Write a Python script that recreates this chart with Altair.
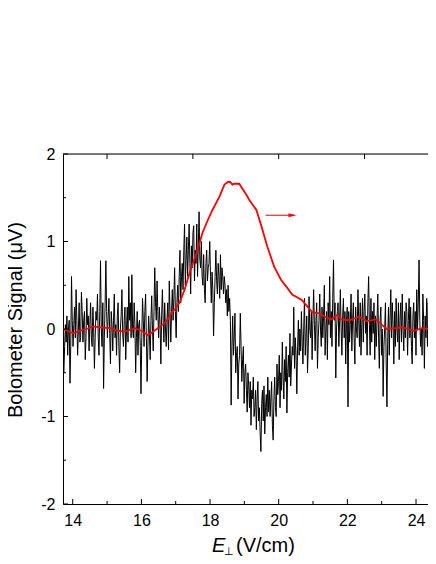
import altair as alt
import numpy as np
import pandas as pd

# ---- data ----
black_y = [
    # 13.72 - 14.72
    -0.45, -0.5, -0.2, 0.05, -0.15, 0.15, -0.3, 0.0, 0.1, -0.62, -0.2, 0.6, 0.1, -0.2, 0.05,
    0.25, -0.1, 0.45, 0.1, -0.3, 0.0, 0.3, -0.15, -0.1, 0.42, 0.2, -0.15, 0.1, 0.2, -0.35,
    -0.1, 0.35, 0.05, 0.15, -0.25, 0.05, 0.3, -0.1, -0.2, 0.25, 0.0, -0.45, -0.1, 0.2, 0.1,
    # 14.72 - 15.72
    0.4, -0.1, -0.3, 0.2, 0.78, 0.0, -0.2, 0.3, -0.68, -0.1, 0.3, 0.78, 0.2, -0.1, 0.15,
    0.35, -0.05, -0.4, 0.2, 0.05, -0.25, 0.1, 0.4, -0.1, 0.05, -0.3, 0.15, 0.3, -0.2, -0.5,
    0.0, 0.15, 0.45, -0.05, -0.2, 0.1, 0.25, -0.35, 0.0, 0.25, -0.15, 0.6, 0.1, 0.3, -0.1,
    # 15.72 - 16.72
    0.62, 0.0, -0.1, 0.3, 0.05, -0.5, -0.1, 0.2, -0.3, 0.05, 0.1, -0.2, -0.74, -0.1, 0.35,
    0.1, -0.2, 0.2, 0.4, -0.1, -0.6, -0.2, 0.15, -0.05, -0.35, 0.1, 0.38, 0.0, -0.25, 0.2,
    0.7, 0.3, 0.1, 0.55, 0.2, -0.1, 0.25, 0.05, -0.4, 0.15, 0.45, 0.1, -0.15, 0.3, 0.0,
    # 16.72 - 17.72
    -0.2, 0.1, 0.3, -0.24, 0.55, 0.2, -0.15, 0.2, 0.45, 0.1, 0.35, 0.7, 0.2, -0.1, 0.3,
    0.5, 0.2, 0.6, 0.9, 0.3, 0.6, 0.75, 0.45, 0.9, 1.2, 0.5, 0.8, 1.05, 0.6, 0.9,
    1.2, 0.75, 0.4, 0.95, 0.7, 1.1, 1.18, 0.55, 0.9, 0.75, 1.2, 0.6, 0.95, 1.34, 0.8,
    # 17.72 - 18.72
    0.7, 1.0, 0.6, 0.5, 0.85, 0.45, 0.3, 0.75, 0.9, 0.55, 0.7, 0.75, 1.0, 0.6, 0.3,
    0.65, 0.45, -0.08, 0.3, 0.6, 0.9, 0.55, 0.4, 0.75, 0.6, 0.35, 0.85, 0.45, 0.7, 0.6,
    0.4, 0.6, 0.5, 0.3, 0.45, 0.15, 0.5, 0.2, 0.35, 0.1, -0.87, -0.2, 0.15, -0.3, -0.1,
    # 18.72 - 19.72
    0.18, -0.5, -0.3, -0.2, -0.8, -0.4, -0.3, 0.18, -0.2, -0.6, -0.35, -0.2, -0.85, -0.5, -0.4,
    -0.7, -0.95, -0.5, -0.65, -0.9, -0.6, -1.1, -0.7, -0.8, -0.55, -1.0, -0.9, -0.7, -1.15, -0.8,
    -0.6, -1.05, -0.9, -1.2, -1.4, -0.85, -0.7, -1.05, -0.65, -1.2, -0.9, -0.75, -1.0, -0.55, -0.95,
    # 19.72 - 20.72
    -0.7, -1.0, -0.8, -0.6, -1.1, -1.27, -0.8, -0.55, -0.9, -1.0, -0.4, -0.75, -0.6, -0.3, -0.9,
    -0.5, -0.7, -0.15, -0.55, -0.8, -0.35, -0.6, -0.2, -0.96, -0.5, -0.3, -0.55, -0.05, -0.65, -0.4,
    -0.2, -0.3, 0.25, -0.45, -0.1, -0.3, -0.74, -0.2, 0.1, -0.3, 0.0, -0.25, 0.2, -0.15, -0.4,
    # 20.72 - 21.72
    0.0, 0.35, -0.3, -0.1, 0.15, -0.5, -0.2, 0.37, 0.0, -0.1, 0.2, -0.35, 0.1, 0.45, 0.05,
    -0.25, 0.1, 0.3, -0.45, -0.1, 0.1, 0.4, 0.0, -0.2, 0.25, -0.1, 0.15, 0.5, -0.3, 0.0,
    0.2, -0.35, 0.3, 0.05, 0.6, -0.1, 0.2, -0.2, 0.35, 0.79, 0.1, 0.3, -0.56, 0.0, 0.2,
    # 21.72 - 22.72
    0.3, -0.2, 0.1, 0.45, 0.0, -0.3, 0.15, 0.35, -0.1, 0.2, -0.4, 0.1, 0.25, -0.89, 0.2,
    -0.15, 0.05, 0.4, -0.25, 0.1, 0.3, -0.1, -0.4, 0.25, 0.0, -0.1, 0.45, 0.1, -0.2, 0.3,
    -0.3, 0.05, 0.35, -0.15, 0.2, 0.4, -0.05, 0.15, -0.3, 0.3, 0.6, 0.05, -0.3, 0.35, -0.15,
    # 22.72 - 23.72
    0.2, -0.05, 0.3, -0.35, 0.15, -0.2, 0.1, 0.4, -0.1, -0.45, 0.1, 0.25, -0.3, 0.0, -0.77,
    -0.2, 0.0, 0.3, -0.4, -0.89, -0.1, 0.25, -0.3, 0.1, 0.45, -0.1, 0.3, 0.05, -0.4, 0.2,
    -0.2, 0.35, 0.0, -0.15, 0.3, -0.35, 0.1, 0.3, -0.15, 0.4, 0.0, -0.25, 0.2, -0.1, 0.3,
    # 23.72 - 24.6
    0.2, -0.3, 0.1, 0.35, -0.1, 0.25, -0.2, -0.4, 0.15, 0.3, -0.1, 0.2, -0.3, 0.45, 0.0,
    0.3, 0.79, 0.1, -0.2, 0.0, -0.3, 0.4, 0.1, -0.45, 0.15, -0.1, 0.35, -0.2, 0.3, -0.35,
    -0.6, 0.1, 0.3, -0.2, 0.45, -0.5, 0.1, -0.3, 0.25, -0.1,
]
black_x_range = [13.72, 24.6]

red_x = [13.72, 13.85, 14.01, 14.2, 14.4, 14.59, 14.8, 15.08, 15.3, 15.52, 15.81,
         16.0, 16.19, 16.45, 16.62, 16.75, 16.88, 17.0, 17.11, 17.26, 17.40, 17.61,
         17.78, 17.93, 18.07, 18.27, 18.42, 18.52, 18.59, 18.65, 18.71, 18.85,
         18.95, 19.05, 19.15, 19.35, 19.50, 19.67, 19.87, 20.07, 20.25, 20.40,
         20.55, 20.68, 20.85, 20.98, 21.18, 21.35, 21.53, 21.70, 21.82, 22.05,
         22.34, 22.57, 22.83, 23.0, 23.15, 23.4, 23.59, 23.94, 24.17, 24.35, 24.6]
red_y = [0.0, -0.02, -0.05, -0.02, 0.0, 0.03, 0.02, 0.01, -0.02, -0.03, 0.01,
         -0.02, -0.07, 0.0, 0.05, 0.1, 0.18, 0.24, 0.30, 0.45, 0.64, 0.87,
         1.10, 1.24, 1.36, 1.51, 1.65, 1.68, 1.68, 1.65, 1.66, 1.66,
         1.60, 1.54, 1.47, 1.36, 1.17, 0.94, 0.71, 0.56, 0.47, 0.39,
         0.36, 0.33, 0.25, 0.19, 0.18, 0.14, 0.11, 0.16, 0.11, 0.10,
         0.14, 0.09, 0.11, 0.05, 0.0, 0.01, 0.02, -0.02, 0.01, 0.0, -0.02]

arrow_x = [19.62, 20.40]
arrow_y = 1.30

x_ticks = [14, 16, 18, 20, 22, 24]
x_minor = [15, 17, 19, 21, 23]
y_ticks = [-2, -1, 0, 1, 2]
y_minor = [-1.5, -0.5, 0.5, 1.5]
top_ticks = [15, 17.5, 20, 22.5]

x_domain = [13.717, 24.349]
y_domain = [-2, 2]

y_title = "Bolometer Signal (\u03bcV)"
x_title_parts = ["E", "\u22a5", "(V/cm)"]

# ---- chart ----
W, H = 365, 350
FONT = "Liberation Sans"
xs = alt.Scale(domain=x_domain, nice=False, zero=False)
ys = alt.Scale(domain=y_domain, nice=False, zero=False)

x_axis = alt.Axis(values=x_ticks, title=None, ticks=False, tickSize=0,
                  labelFontSize=16, labelFont=FONT, labelColor="black",
                  labelPadding=8, domainColor="black", domainWidth=1,
                  grid=False, labelExpr="'' + datum.value")
y_axis = alt.Axis(values=y_ticks, title=None, ticks=False, tickSize=0,
                  labelFontSize=16, labelFont=FONT, labelColor="black",
                  labelPadding=8, domainColor="black", domainWidth=1,
                  grid=False, labelExpr="'' + datum.value")

black_df = pd.DataFrame({"x": np.linspace(black_x_range[0], black_x_range[1], len(black_y)),
                         "y": black_y})
red_df = pd.DataFrame({"x": red_x, "y": red_y})

black = alt.Chart(black_df).mark_line(color="black", strokeWidth=1, clip=True).encode(
    x=alt.X("x:Q", scale=xs, axis=x_axis),
    y=alt.Y("y:Q", scale=ys, axis=y_axis),
)

red = alt.Chart(red_df).mark_line(color="#ff0000", strokeWidth=1.8, clip=True).encode(
    x=alt.X("x:Q", scale=xs, axis=x_axis),
    y=alt.Y("y:Q", scale=ys, axis=y_axis),
)

arrow_df = pd.DataFrame({"x": [arrow_x[0]], "x2": [arrow_x[1]], "y": [arrow_y]})
arrow_line = alt.Chart(arrow_df).mark_rule(color="#ff0000", strokeWidth=1).encode(
    x=alt.X("x:Q", scale=xs, axis=x_axis), x2="x2:Q",
    y=alt.Y("y:Q", scale=ys, axis=y_axis),
)
arrow_head = alt.Chart(arrow_df).mark_point(
    shape="M-1,-0.5L1,0L-1,0.5Z", filled=True, color="#ff0000", size=64, opacity=1
).encode(
    x=alt.X("x2:Q", scale=xs, axis=x_axis),
    y=alt.Y("y:Q", scale=ys, axis=y_axis),
)

def xtick_layer(vals, y0, y1):
    return alt.Chart(pd.DataFrame({"v": vals})).mark_rule(color="black", strokeWidth=1).encode(
        x=alt.X("v:Q", scale=xs, axis=x_axis), y=alt.value(y0), y2=alt.value(y1))

def ytick_layer(vals, x0, x1):
    return alt.Chart(pd.DataFrame({"v": vals})).mark_rule(color="black", strokeWidth=1).encode(
        y=alt.Y("v:Q", scale=ys, axis=y_axis), x=alt.value(x0), x2=alt.value(x1))

ticks = [
    xtick_layer(x_ticks, H, H - 5),
    xtick_layer(x_minor, H, H - 3),
    xtick_layer(top_ticks, 0, 5),
    ytick_layer(y_ticks, 0, 5),
    ytick_layer(y_minor, 0, 3),
]

top_line = alt.Chart(pd.DataFrame({"v": [0]})).mark_rule(color="black", strokeWidth=1).encode(
    x=alt.value(0), x2=alt.value(W), y=alt.value(0))

ytitle = alt.Chart(pd.DataFrame({"t": [y_title]})).mark_text(
    font=FONT, fontSize=20, angle=270, align="center", baseline="alphabetic", color="black"
).encode(text="t:N", x=alt.value(-41), y=alt.value(166))

xt_e = alt.Chart(pd.DataFrame({"t": [x_title_parts[0]]})).mark_text(
    font=FONT, fontSize=20, fontStyle="italic", align="left", baseline="alphabetic", color="black"
).encode(text="t:N", x=alt.value(149), y=alt.value(398))
xt_sub = alt.Chart(pd.DataFrame({"t": [x_title_parts[1]]})).mark_text(
    font="DejaVu Sans", fontSize=11, align="left", baseline="alphabetic", color="black"
).encode(text="t:N", x=alt.value(161), y=alt.value(401))
xt_unit = alt.Chart(pd.DataFrame({"t": [x_title_parts[2]]})).mark_text(
    font=FONT, fontSize=20, align="left", baseline="alphabetic", color="black"
).encode(text="t:N", x=alt.value(173), y=alt.value(398))

chart = alt.layer(
    black, red, arrow_line, arrow_head, *ticks, top_line, ytitle, xt_e, xt_sub, xt_unit
).properties(
    width=W, height=H,
    autosize=alt.AutoSizeParams(type="none"),
    padding={"left": 55, "top": 146, "right": 0, "bottom": 52},
).configure_view(stroke=None).configure(background="white")

chart.save("out.html", embed_options={"renderer": "svg", "actions": False})
